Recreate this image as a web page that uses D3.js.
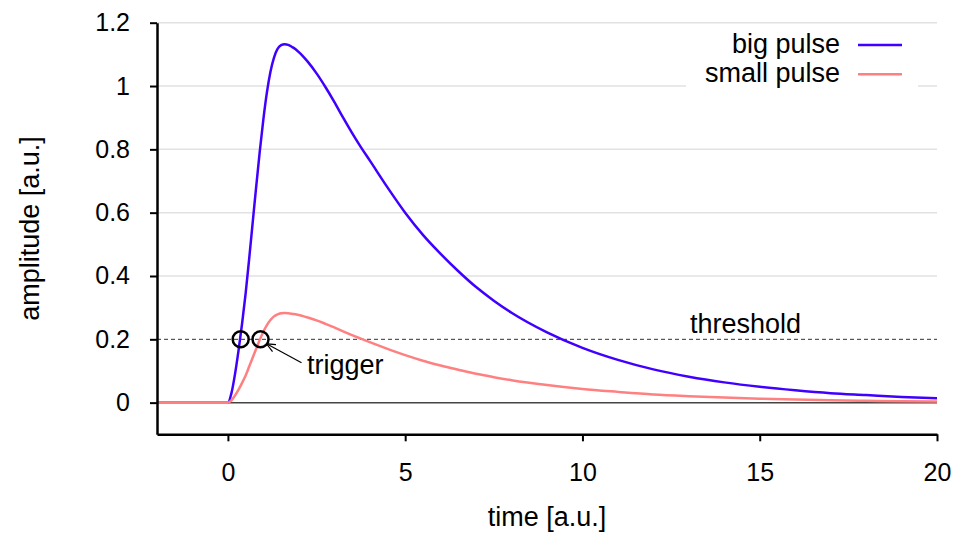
<!DOCTYPE html>
<html>
<head>
<meta charset="utf-8">
<script src="https://cdn.jsdelivr.net/npm/d3@7"></script>
<style>
  body { margin: 0; background: #fff; }
  svg text { font-family: "Liberation Sans", Arial, sans-serif; }
</style>
</head>
<body>
<div id="chart-container"></div>
<script>
// sample times and the two pulse shapes
const time = [-2, -1, 0, 0.1, 0.2, 0.3, 0.4, 0.5, 0.6, 0.7, 0.8, 0.9, 1.0, 1.1, 1.2, 1.3, 1.4, 1.5, 1.6, 1.7, 1.8, 1.9,
  2.0, 2.1, 2.25, 2.5, 2.75, 3.0, 3.25, 3.5, 3.75, 4.0, 4.5, 5.0, 5.5, 6.0, 6.5, 7.0, 7.5, 8.0, 9, 10, 11, 12, 13, 14, 15, 16, 17, 18, 19, 20];
const bigPulse = [0, 0, 0, 0.03, 0.09, 0.165, 0.25, 0.345, 0.455, 0.57, 0.685, 0.795, 0.895, 0.98, 1.045, 1.09, 1.117, 1.129, 1.132, 1.13, 1.124, 1.117,
  1.107, 1.096, 1.077, 1.04, 0.997, 0.95, 0.90, 0.852, 0.807, 0.765, 0.68, 0.60, 0.53, 0.47, 0.415, 0.365, 0.322, 0.284, 0.222, 0.173, 0.135, 0.105, 0.082, 0.064, 0.05, 0.039, 0.030, 0.024, 0.018, 0.014];
const smallPulse = [0, 0, 0, 0.0075, 0.0225, 0.041, 0.0625, 0.086, 0.114, 0.1425, 0.171, 0.199, 0.224, 0.245, 0.261, 0.2725, 0.279, 0.282, 0.283, 0.2825, 0.281, 0.279,
  0.277, 0.274, 0.269, 0.26, 0.249, 0.2375, 0.225, 0.213, 0.202, 0.191, 0.17, 0.15, 0.1325, 0.1175, 0.104, 0.091, 0.0805, 0.071, 0.0555, 0.043, 0.034, 0.026, 0.0205, 0.016, 0.0125, 0.0098, 0.0075, 0.006, 0.0045, 0.0035];
const seriesNames = ["big pulse", "small pulse"];
const seriesColors = ["#4000ff", "#ff8080"];
const xTicks = [0, 5, 10, 15, 20];
const yTicks = [0, 0.2, 0.4, 0.6, 0.8, 1, 1.2];
const threshold = 0.2;
const triggerTimes = [0.36, 0.92];

// chart dimensions
const W = 962, H = 535;
const margin = { top: 22.7, right: 25, bottom: 100.7, left: 157 };
const tickFont = 25;
const labelFont = 27;

const x = d3.scaleLinear().domain([-2, 20]).range([margin.left, W - margin.right]);
const y = d3.scaleLinear().domain([-0.1, 1.2]).range([H - margin.bottom, margin.top]);

const svg = d3.select("#chart-container")
  .append("svg")
  .attr("width", W)
  .attr("height", H);

const defs = svg.append("defs");
defs.append("clipPath").attr("id", "plot")
  .append("rect")
  .attr("x", x(-2)).attr("y", y(1.2))
  .attr("width", x(20) - x(-2)).attr("height", y(-0.1) - y(1.2));

// horizontal gridlines (0 and threshold get their own lines)
svg.selectAll(".grid")
  .data(yTicks.filter(d => d > threshold))
  .join("line")
  .attr("x1", x(-2)).attr("x2", x(20))
  .attr("y1", d => y(d)).attr("y2", d => y(d))
  .attr("stroke", "#e2e2e2")
  .attr("stroke-width", 1.5);

// threshold
svg.append("line")
  .attr("x1", x(-2)).attr("x2", x(20))
  .attr("y1", y(threshold)).attr("y2", y(threshold))
  .attr("stroke", "#333")
  .attr("stroke-width", 1)
  .attr("stroke-dasharray", "4,3");

svg.append("text")
  .attr("x", 690)
  .attr("y", y(threshold) - 6)
  .style("font-size", labelFont + "px")
  .text("threshold");

// zero line
svg.append("line")
  .attr("x1", x(-2)).attr("x2", x(20))
  .attr("y1", y(0)).attr("y2", y(0))
  .attr("stroke", "#444")
  .attr("stroke-width", 1.5);

// pulses
const line = d3.line()
  .x((d, i) => x(time[i]))
  .y(d => y(d))
  .curve(d3.curveMonotoneX);

[bigPulse, smallPulse].forEach((s, i) => {
  svg.append("path")
    .datum(s)
    .attr("clip-path", "url(#plot)")
    .attr("fill", "none")
    .attr("stroke", seriesColors[i])
    .attr("stroke-width", 2.5)
    .attr("stroke-linejoin", "round")
    .attr("d", line);
});

// legend
svg.append("rect")
  .attr("x", 686).attr("y", 26)
  .attr("width", 232).attr("height", 69)
  .attr("fill", "#fff");

const legend = svg.selectAll(".legend")
  .data(seriesNames)
  .join("g")
  .attr("transform", (d, i) => `translate(0, ${45 + i * 29.3})`);

legend.append("text")
  .attr("x", 840)
  .attr("y", 7.5)
  .attr("text-anchor", "end")
  .style("font-size", labelFont + "px")
  .text(d => d);

legend.append("line")
  .attr("x1", 858).attr("x2", 902)
  .attr("stroke", (d, i) => seriesColors[i])
  .attr("stroke-width", 2.5);

// trigger markers and annotation
svg.selectAll(".trigger")
  .data(triggerTimes)
  .join("circle")
  .attr("cx", d => x(d))
  .attr("cy", y(threshold))
  .attr("r", 8)
  .attr("fill", "none")
  .attr("stroke", "#000")
  .attr("stroke-width", 2.5);

defs.append("marker")
  .attr("id", "arrow")
  .attr("viewBox", "0 0 10 10")
  .attr("refX", 9).attr("refY", 5)
  .attr("markerWidth", 10).attr("markerHeight", 10)
  .attr("markerUnits", "userSpaceOnUse")
  .attr("orient", "auto")
  .append("path")
  .attr("d", "M0,1 L9,5 L0,9")
  .attr("fill", "none")
  .attr("stroke", "#000")
  .attr("stroke-width", 1.2);

const tx = x(triggerTimes[1]), ty = y(threshold);
svg.append("line")
  .attr("x1", tx + 41).attr("y1", ty + 23.5)
  .attr("x2", tx + 6).attr("y2", ty + 4.5)
  .attr("stroke", "#000")
  .attr("stroke-width", 1.2)
  .attr("marker-end", "url(#arrow)");

svg.append("text")
  .attr("x", tx + 46.5)
  .attr("y", ty + 35)
  .style("font-size", labelFont + "px")
  .text("trigger");

// axes
const yAxis = svg.append("g")
  .attr("transform", `translate(${x(-2)},0)`)
  .call(d3.axisLeft(y)
    .tickValues(yTicks)
    .tickFormat(d3.format("~g"))
    .tickSize(7)
    .tickSizeOuter(0)
    .tickPadding(20));

const xAxis = svg.append("g")
  .attr("transform", `translate(0,${y(-0.1)})`)
  .call(d3.axisBottom(x)
    .tickValues(xTicks)
    .tickSize(7)
    .tickSizeOuter(0)
    .tickPadding(22));

[xAxis, yAxis].forEach(g => {
  g.select(".domain").attr("stroke", "#000").attr("stroke-width", 2.5);
  g.selectAll(".tick line").attr("stroke", "#000").attr("stroke-width", 2);
  g.selectAll(".tick text")
    .attr("fill", "#000")
    .style("font-size", tickFont + "px")
    .style("font-family", '"Liberation Sans", Arial, sans-serif');
});

// axis titles
svg.append("text")
  .attr("x", (x(-2) + x(20)) / 2)
  .attr("y", 526)
  .attr("text-anchor", "middle")
  .style("font-size", labelFont + "px")
  .text("time [a.u.]");

svg.append("text")
  .attr("transform", `translate(39, ${(y(-0.1) + y(1.2)) / 2}) rotate(-90)`)
  .attr("text-anchor", "middle")
  .style("font-size", labelFont + "px")
  .text("amplitude [a.u.]");
</script>
</body>
</html>
